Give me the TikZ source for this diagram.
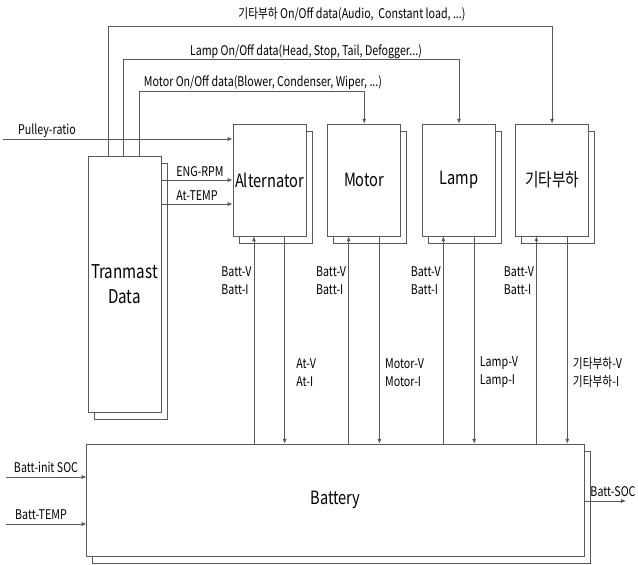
\documentclass[tikz,border=0pt]{standalone}
\usepackage{fontspec}
\setmainfont{Noto Sans CJK KR}[FakeStretch=0.8]
\usetikzlibrary{arrows.meta,positioning,calc,shadows}

\begin{document}
\begin{tikzpicture}[
  x=0.025cm, y=-0.025cm,
  unit/.style={draw=black!65, fill=white, line width=0.5pt, minimum width=1.83cm, minimum height=2.8cm, inner sep=1pt, font=\fontsize{13}{15}\selectfont, align=center, general shadow={draw=black!65, fill=white, line width=0.5pt, shadow xshift=0.15cm, shadow yshift=-0.175cm}},
  sig/.style={-{Latex[length=1.2mm, width=1mm]}, draw=black!65, line width=0.5pt},
  sigtext/.style={font=\fontsize{9.5}{12.8}\selectfont, inner sep=1pt, align=left}
]
  \useasboundingbox (0,0) rectangle (638,565);

  \node[unit, minimum height=6.4cm, font=\fontsize{13.5}{18}\selectfont] (tran) at (124.5,284) {Tranmast\\Data};
  \node[unit] (alt) at (269.5,180) {Alternator};
  \node[unit, right=0.52cm of alt] (motor) {Motor};
  \node[unit, right=0.52cm of motor] (lamp) {Lamp};
  \node[unit, right=0.48cm of lamp] (etc) {기타부하};
  \node[unit, minimum width=12.43cm] (batt) at (335.5,500) {Battery};

  % on/off data from Tranmast Data
  \draw[sig] ($(tran.north west)+(21,0)$) -- ++(0,-129) -| (etc.north);
  \draw[sig] ($(tran.north west)+(36,0)$) -- ++(0,-96) -| (lamp.north);
  \draw[sig] ($(tran.north west)+(52,0)$) -- ++(0,-64) -| (motor.north);
  \node[sigtext] (etcdata) at (352,14) {기타부하 On/Off data(Audio,\ \ Constant load, ...)};
  \node[sigtext] (lampdata) at (306,52) {Lamp On/Off data(Head, Stop, Tail, Defogger...)};
  \node[sigtext] (motordata) at (263,83) {Motor On/Off data(Blower, Condenser, Wiper, ...)};

  % alternator inputs
  \coordinate (pulley) at (3,139);
  \draw[sig] (pulley) -- (pulley -| alt.west);
  \node[sigtext] (pulleytxt) at (47,131) {Pulley-ratio};
  \draw[sig] (alt.west -| tran.east) -- (alt.west);
  \draw[sig] ([yshift=-0.6cm]alt.west -| tran.east) -- ([yshift=-0.6cm]alt.west);
  \node[sigtext] (rpmtxt) at (200,172) {ENG-RPM};
  \node[sigtext] (temptxt) at (197,196) {At-TEMP};

  % loads <-> battery
  \foreach \u/\t/\s in {alt/At/0.63, motor/Motor/0.48, lamp/Lamp/0.48, etc/기타부하/0.48}{
    \draw[sig] ([xshift=-0.39cm]\u.south |- batt.north) -- ([xshift=-0.39cm]\u.south);
    \draw[sig] ([xshift=0.38cm]\u.south) -- ([xshift=0.38cm]\u.south |- batt.north);
    \node[sigtext, anchor=east] (bv\u) at ([xshift=-0.41cm, yshift=-1.1cm]\u.south) {Batt-V\\Batt-I};
    \node[sigtext, anchor=west] (lv\u) at ([xshift=\s cm, yshift=-3.4cm]\u.south) {\t-V\\\t-I};
  }

  % battery inputs and output
  \coordinate (socin) at (6,477);
  \coordinate (battin) at (6,524);
  \coordinate (socout) at (626,501);
  \draw[sig] (socin) -- (socin -| batt.west);
  \draw[sig] (battin) -- (battin -| batt.west);
  \draw[sig] (batt.east |- socout) -- (socout);
  \node[sigtext] (socintxt) at (46,467) {Batt-init SOC};
  \node[sigtext] (battintxt) at (41,515) {Batt-TEMP};
  \node[sigtext] (socouttxt) at (613,492) {Batt-SOC};
\end{tikzpicture}
\end{document}
